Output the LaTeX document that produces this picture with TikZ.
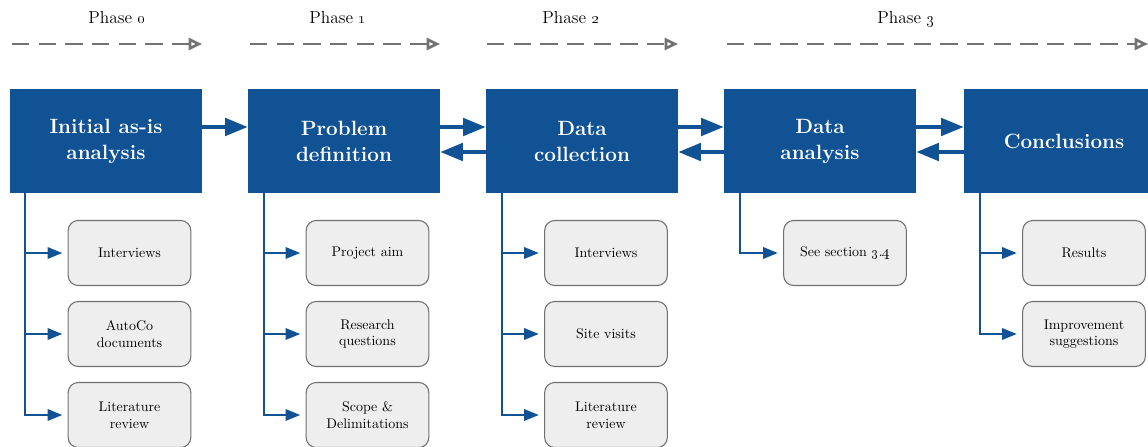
\documentclass[tikz,border=0pt]{standalone}
\usetikzlibrary{arrows.meta,calc}
\definecolor{mainblue}{RGB}{16,82,148}
\definecolor{subfill}{RGB}{238,238,238}
\definecolor{subdraw}{RGB}{112,112,112}
\definecolor{phasegray}{RGB}{115,115,115}
\begin{document}
\begin{tikzpicture}[x=0.75pt,y=-0.75pt,
 mainbox/.style={fill=mainblue, draw=none, minimum width=144pt, minimum height=78pt, text=white,
   font=\fontsize{15.5}{19.5}\selectfont\bfseries, align=center, inner sep=0pt},
 subbox/.style={fill=subfill, draw=subdraw, line width=0.8pt, rounded corners=7.5pt,
   minimum width=92pt, minimum height=48.75pt, align=center, font=\fontsize{10.5}{12.5}\selectfont, inner sep=0pt},
 mainarrow/.style={draw=mainblue, line width=3pt, -{Triangle[length=17pt,width=13pt]}},
 subarrow/.style={draw=mainblue, line width=1.6pt, -{Triangle[length=11pt,width=8.5pt]}, shorten >=4pt},
 phasearrow/.style={draw=phasegray, line width=2pt, dash pattern=on 13pt off 7pt,
   -{Triangle[open, length=10pt, width=9pt]}},
 phaselabel/.style={font=\fontsize{13}{15}\selectfont, inner sep=0pt, anchor=base}
]
\useasboundingbox (0,0) rectangle (1148,446);
\clip (0,0) rectangle (1148,446);

% phase labels and arrows
\node[phaselabel] (ph0) at (117,23) {Phase \oldstylenums{0}};
\node[phaselabel] (ph1) at (338,23) {Phase \oldstylenums{1}};
\node[phaselabel] (ph2) at (571,23) {Phase \oldstylenums{2}};
\node[phaselabel] (ph3) at (906,23) {Phase \oldstylenums{3}};
\coordinate (p0s) at (12,44);  \coordinate (p0e) at (202,44);
\coordinate (p1s) at (250,44); \coordinate (p1e) at (440,44);
\coordinate (p2s) at (487,44); \coordinate (p2e) at (678,44);
\coordinate (p3s) at (727,44); \coordinate (p3e) at (1148,44);
\draw[phasearrow] (p0s) -- (p0e);
\draw[phasearrow] (p1s) -- (p1e);
\draw[phasearrow] (p2s) -- (p2e);
\draw[phasearrow] (p3s) -- (p3e);

% main boxes
\node[mainbox] (b1) at (106,141) {Initial as-is\\analysis};
\node[mainbox] (b2) at (344,141) {Problem\\definition};
\node[mainbox] (b3) at (582,141) {Data\\collection};
\node[mainbox] (b4) at (820,141) {Data\\analysis};
\node[mainbox, minimum width=150pt] (b5) at (1064,141) {Conclusions};

% main arrows
\coordinate (fw) at (0,127);
\coordinate (bw) at (0,152);
\draw[mainarrow] (b1.east |- fw) -- (b2.west |- fw);
\draw[mainarrow] (b2.east |- fw) -- (b3.west |- fw);
\draw[mainarrow] (b3.west |- bw) -- (b2.east |- bw);
\draw[mainarrow] (b3.east |- fw) -- (b4.west |- fw);
\draw[mainarrow] (b4.west |- bw) -- (b3.east |- bw);
\draw[mainarrow] (b4.east |- fw) -- (b5.west |- fw);
\draw[mainarrow] (b5.west |- bw) -- (b4.east |- bw);

% sub boxes
\node[subbox] (s11) at (129.5,253) {Interviews};
\node[subbox] (s12) at (129.5,334) {AutoCo\\documents};
\node[subbox] (s13) at (129.5,415) {Literature\\review};
\node[subbox] (s21) at (367.5,253) {Project aim};
\node[subbox] (s22) at (367.5,334) {Research\\questions};
\node[subbox] (s23) at (367.5,415) {Scope \&\\Delimitations};
\node[subbox] (s31) at (606,253) {Interviews};
\node[subbox] (s32) at (606,334) {Site visits};
\node[subbox] (s33) at (606,415) {Literature\\review};
\node[subbox] (s41) at (845,253) {See section \oldstylenums{3}.\oldstylenums{4}};
\node[subbox] (s51) at (1084,253) {Results};
\node[subbox] (s52) at (1084,334) {Improvement\\suggestions};

% branch connectors
\coordinate (c1) at ([xshift=11.5pt]b1.south west);
\coordinate (c2) at ([xshift=12.5pt]b2.south west);
\coordinate (c3) at ([xshift=12pt]b3.south west);
\coordinate (c4) at ([xshift=12.5pt]b4.south west);
\coordinate (c5) at ([xshift=12.5pt]b5.south west);

\draw[subarrow] (c1) |- (s13.west);
\draw[subarrow] (c1 |- s11.west) -- (s11.west);
\draw[subarrow] (c1 |- s12.west) -- (s12.west);
\draw[subarrow] (c2) |- (s23.west);
\draw[subarrow] (c2 |- s21.west) -- (s21.west);
\draw[subarrow] (c2 |- s22.west) -- (s22.west);
\draw[subarrow] (c3) |- (s33.west);
\draw[subarrow] (c3 |- s31.west) -- (s31.west);
\draw[subarrow] (c3 |- s32.west) -- (s32.west);
\draw[subarrow] (c4) |- (s41.west);
\draw[subarrow] (c5) |- (s52.west);
\draw[subarrow] (c5 |- s51.west) -- (s51.west);
\end{tikzpicture}
\end{document}
